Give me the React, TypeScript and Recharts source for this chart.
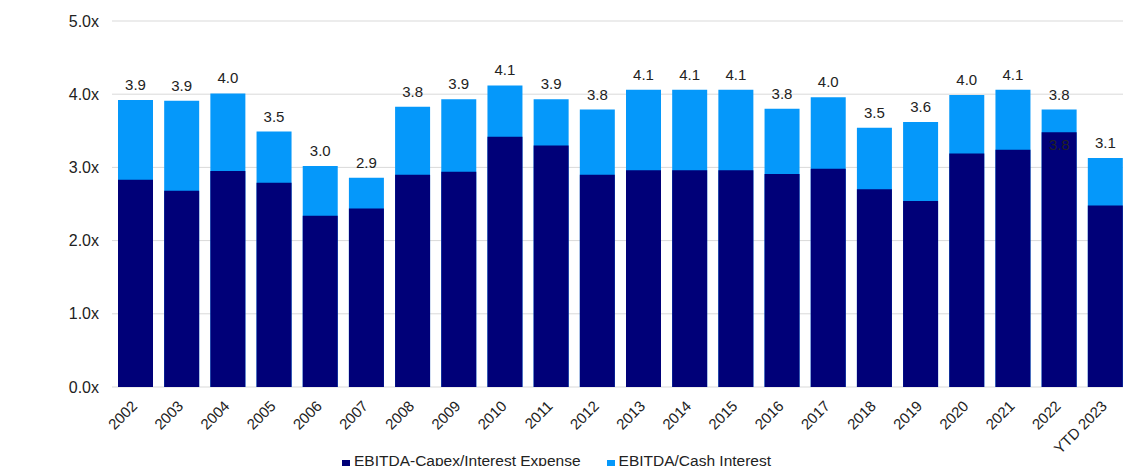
import React from 'react';
import { BarChart, Bar, XAxis, YAxis, CartesianGrid, Legend, LabelList } from 'recharts';

const years = [
  '2002', '2003', '2004', '2005', '2006', '2007', '2008', '2009', '2010', '2011', '2012',
  '2013', '2014', '2015', '2016', '2017', '2018', '2019', '2020', '2021', '2022', 'YTD 2023',
];

// EBITDA-Capex / Interest Expense (dark bars)
const capexCoverage = [
  2.83, 2.68, 2.95, 2.79, 2.34, 2.44, 2.9, 2.94, 3.42, 3.3, 2.9,
  2.96, 2.96, 2.96, 2.91, 2.98, 2.7, 2.54, 3.19, 3.24, 3.48, 2.48,
];

// EBITDA / Cash Interest (light bars, drawn behind)
const cashCoverage = [
  3.92, 3.91, 4.01, 3.49, 3.02, 2.86, 3.83, 3.93, 4.12, 3.93, 3.79,
  4.06, 4.06, 4.06, 3.8, 3.96, 3.54, 3.62, 3.99, 4.06, 3.79, 3.13,
];

// the only data label left on the dark series in the source
const capexLabels = [
  '', '', '', '', '', '', '', '', '', '', '',
  '', '', '', '', '', '', '', '', '', '3.8', '',
];

const yTicks = [0, 1, 2, 3, 4, 5];

const DARK = '#000078';
const LIGHT = '#0598FA';
const TEXT = '#222222';
const FONT = '"Liberation Sans", Arial, sans-serif';

const series = [
  { name: 'EBITDA-Capex/Interest Expense', color: DARK },
  { name: 'EBITDA/Cash Interest', color: LIGHT },
];

const data = years.map((year, i) => ({
  year,
  capex: capexCoverage[i],
  cash: cashCoverage[i],
  capexLabel: capexLabels[i],
}));

function YearTick({ x, y, payload }: any) {
  return (
    <g transform={`translate(${x + 3},${y + 12})`}>
      <text textAnchor="end" transform="rotate(-45)" fontSize={15} fill={TEXT} fontFamily={FONT}>
        {payload.value}
      </text>
    </g>
  );
}

function LegendRow() {
  return (
    <div
      style={{
        display: 'flex',
        height: 20,
        lineHeight: '20px',
        paddingLeft: 342,
        fontSize: 15.5,
        fontFamily: FONT,
        color: TEXT,
        whiteSpace: 'nowrap',
      }}
    >
      {series.map(s => (
        <div key={s.name} style={{ display: 'flex', alignItems: 'center', marginRight: 26 }}>
          <span
            style={{
              display: 'inline-block',
              width: 8,
              height: 8,
              background: s.color,
              marginRight: 4,
              marginTop: 6,
            }}
          />
          <span>{s.name}</span>
        </div>
      ))}
    </div>
  );
}

export default function App() {
  return (
    <div
      style={{
        position: 'fixed',
        left: 0,
        top: 0,
        width: 1123,
        height: 466,
        overflow: 'hidden',
        background: '#fff',
      }}
    >
      <BarChart
        width={1128}
        height={471}
        data={data}
        margin={{ top: 21, right: 0, left: 0, bottom: 0 }}
      >
        <CartesianGrid vertical={false} stroke="#D9D9D9" />
        <XAxis xAxisId="back" dataKey="year" hide height={0} />
        <XAxis
          xAxisId="main"
          dataKey="year"
          interval={0}
          height={64}
          tickLine={false}
          axisLine={false}
          tick={<YearTick />}
        />
        <YAxis
          width={112}
          domain={[0, 5]}
          ticks={yTicks}
          tickLine={false}
          axisLine={false}
          tickMargin={7}
          tickFormatter={(v: number) => `${v.toFixed(1)}x`}
          tick={{ fontSize: 16, fill: TEXT, fontFamily: FONT }}
        />
        <Legend verticalAlign="bottom" content={<LegendRow />} />
        <Bar
          xAxisId="back"
          dataKey="cash"
          name="EBITDA/Cash Interest"
          fill={LIGHT}
          barSize={35}
          isAnimationActive={false}
        >
          <LabelList
            dataKey="cash"
            position="top"
            offset={10}
            formatter={(v: any) => Number(v).toFixed(1)}
            style={{ fontSize: 15, fill: TEXT, fontFamily: FONT }}
          />
        </Bar>
        <Bar
          xAxisId="main"
          dataKey="capex"
          name="EBITDA-Capex/Interest Expense"
          fill={DARK}
          barSize={35}
          isAnimationActive={false}
        >
          <LabelList
            dataKey="capexLabel"
            position="insideTop"
            offset={7}
            style={{ fontSize: 15, fill: TEXT, fontFamily: FONT }}
          />
        </Bar>
      </BarChart>
    </div>
  );
}
